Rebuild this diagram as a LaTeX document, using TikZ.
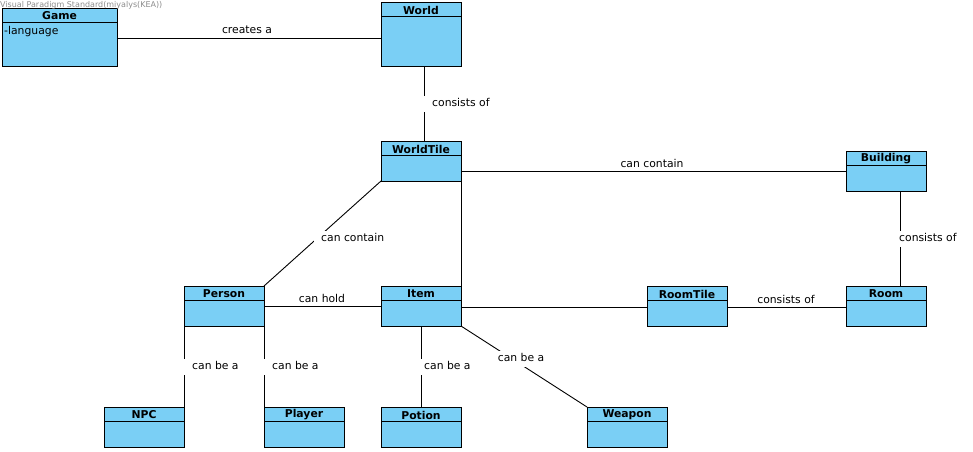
\documentclass[tikz,border=0pt]{standalone}
\usepackage{fontspec}
\setmainfont{DejaVu Sans}
\definecolor{clsfill}{RGB}{122,207,245}
\definecolor{wmgrey}{RGB}{140,140,140}
\tikzset{
  clsbox/.style={draw=black, fill=clsfill, line width=1pt, inner sep=0pt, outer sep=0pt},
  clstitle/.style={font=\bfseries\fontsize{10.8}{12}\selectfont, inner sep=0pt},
  conn/.style={draw=black, line width=0.9pt},
  lbl/.style={font=\fontsize{10.8}{12}\selectfont, inner sep=0pt, text height=7.5pt, text depth=2pt},
  gaplbl/.style={lbl, fill=white, inner ysep=3pt},
}
\newcommand{\umlcls}[6]{%
  \node[clsbox, minimum width=#4pt, minimum height=#5pt, anchor=north west] (#1) at (#2,#3) {};
  \draw[line width=1pt] ([yshift=-14pt]#1.north west) -- ([yshift=-14pt]#1.north east);
  \node[clstitle] at ([yshift=-8pt]#1.north) {#6};
}
\begin{document}
\begin{tikzpicture}[x=1pt,y=-1pt]
\useasboundingbox (0,0) rectangle (973,451);
% classes
\umlcls{game}{2}{8}{115}{58}{Game}
\node[lbl, anchor=west] (langattr) at (4,32) {-language};
\umlcls{world}{381}{2}{80}{64}{World}
\umlcls{worldtile}{381}{141}{80}{40}{WorldTile}
\umlcls{building}{846}{151}{80}{40}{Building}
\umlcls{person}{184}{286}{80}{40}{Person}
\umlcls{item}{381}{286}{80}{40}{Item}
\umlcls{roomtile}{647}{286}{80}{40}{RoomTile}
\umlcls{room}{846}{286}{80}{40}{Room}
\umlcls{npc}{104}{407}{80}{40}{NPC}
\umlcls{player}{264}{407}{80}{40}{Player}
\umlcls{potion}{381}{407}{80}{40}{Potion}
\umlcls{weapon}{587}{407}{80}{40}{Weapon}
% connectors
\draw[conn] ([yshift=-1pt]game.east) -- ([yshift=-1pt]world.west |- game.east);
\node[lbl] (l1) at (247,31) {creates a};
\draw[conn] ([xshift=3pt]world.south) -- ([xshift=3pt]worldtile.north);
\node[gaplbl, anchor=west, inner xsep=9pt] (l2) at (423,104) {consists of};
\draw[conn] (building.west -| worldtile.east) -- (building.west);
\node[lbl] (l3) at (652,165) {can contain};
\draw[conn] (worldtile.south east) -- (item.north east);
\draw[conn] (worldtile.south west) -- (person.north east);
\node[gaplbl, anchor=west, inner xsep=7pt] (l4) at (314,239) {can contain};
\draw[conn] (person.east) -- (item.west);
\node[lbl] (l5) at (322,300) {can hold};
\draw[conn] ([yshift=-1pt]item.east) -- ([yshift=-1pt]roomtile.west);
\draw[conn] ([yshift=-1pt]roomtile.east) -- ([yshift=-1pt]room.west);
\node[lbl] (l6) at (786,301) {consists of};
\draw[conn] ([xshift=14pt]building.south) -- ([xshift=14pt]room.north);
\node[gaplbl, anchor=west, inner xsep=2pt] (l7) at (897,239) {consists of};
\draw[conn] (person.south west) -- (npc.north east);
\node[gaplbl, anchor=west, inner xsep=9pt] (l8) at (183,367) {can be a};
\draw[conn] (person.south east) -- (player.north west);
\node[gaplbl, anchor=west, inner xsep=9pt] (l9) at (263,367) {can be a};
\draw[conn] (item.south) -- (potion.north);
\node[gaplbl, anchor=west, inner xsep=4pt] (l10) at (420,367) {can be a};
\draw[conn] (item.south east) -- (weapon.north west);
\node[gaplbl, inner xsep=2pt] (l11) at (521,359) {can be a};
% watermark
\node[font=\fontsize{8}{9}\selectfont, text=wmgrey, anchor=north west, inner sep=0pt] (wm) at (0,1.5) {Visual Paradigm Standard(miyalys(KEA))};
\end{tikzpicture}
\end{document}
